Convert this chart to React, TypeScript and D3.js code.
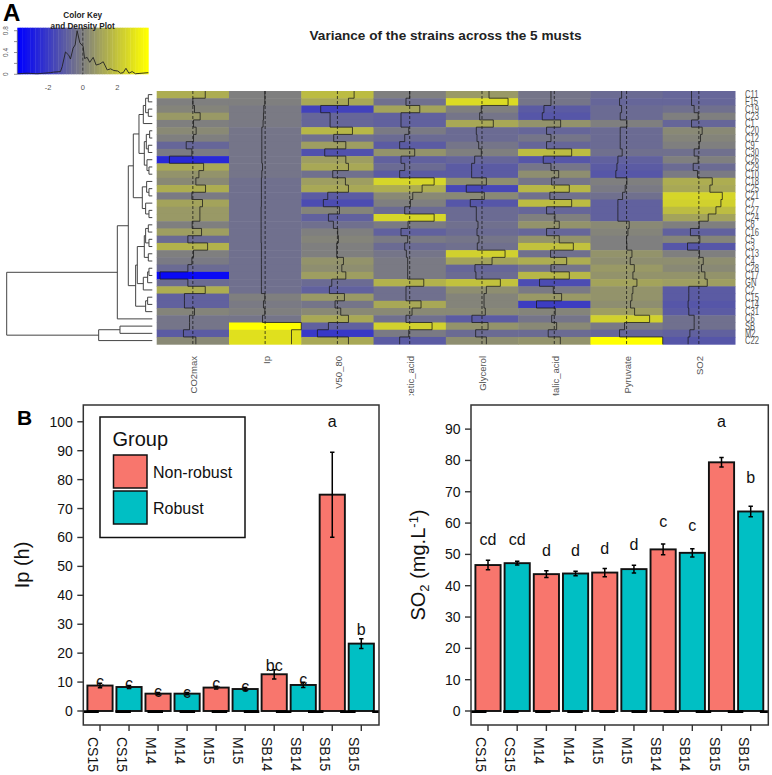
import React from "react";
import * as d3 from "d3";

// ---------- Panel A data ----------
const rowLabels = ["C11","F15","C19","C23","C1","C20","C12","C9","C30","C26","C29","C10","C18","C25","C21","C7","C27","C24","C8","C16","C5","C3","C13","C4","C28","C17","GN","C2","C15","C14","C31","C6","SB","M2","C22"];
const colLabels = ["CO2max","Ip","V50_80","Acetic_acid","Glycerol","Malic_acid","Pyruvate","SO2"];
const co2max = [1.27,0,.17,.75,.07,.34,.07,-.68,-.1,-2.4,1.1,.62,.31,1.3,-.1,.99,.72,.72,-.07,.89,-.51,1.51,.07,-.1,-.51,-3.36,-.51,1.27,-.86,-.86,.17,-.34,-.34,-.96,.31];
const ip = [-.03,-.03,-.14,-.17,-.21,-.34,-.34,-.34,-.34,-.34,-.27,-.34,-.38,-.38,-.38,-.38,-.41,-.41,-.41,-.41,-.41,-.38,-.38,-.38,-.38,-.38,-.38,-.38,-.03,-.17,-.03,-.27,3.7,2.7,2.7];
const v50_80 = [1.71,1.13,-1.71,-.75,-.75,1.54,-.38,.86,-1.3,.86,1.13,-.48,.82,1.13,-.99,-1.44,.21,-.92,-.41,.03,.1,-.07,-.07,.62,.45,.86,-.58,-.82,.72,-.24,.34,1.13,-.92,-2.05,1.13];
const aceticAcid = [0,-.38,1.03,-.89,-.89,-.1,-.51,-1.03,.51,-.89,-.51,-1.03,2.5,1.27,.31,.07,-.51,2.5,-.17,-.89,-.21,-.51,-.34,-.21,-.21,-.21,1.44,-.38,-.38,1.16,.24,-.38,2.29,-.1,-1.03];
const glycerol = [.72,2.67,-.07,-.24,1.16,-.58,-.51,-.34,-.07,-.75,-1.06,-1.06,.45,-1.61,.24,-1.2,-.58,-.58,-.41,-.51,-.31,-.48,2.36,1.03,-.72,-.62,1.88,.45,.21,.21,.34,-1.03,.62,-.65,.45];
const malicAcid = [-.34,-.34,-1.06,-1.23,.65,-.79,-.34,-.79,1.78,-1.13,-.34,.45,-.27,1.54,-.45,1.78,-.79,.07,.51,-.79,.51,1.95,-.38,1.27,-.34,1.54,-1.51,-.1,.75,-1.82,.1,-.27,.24,-.62,.62];
const pyruvate = [-.51,-.72,-.51,-.65,.03,-.65,-.65,-.65,-.45,-.89,-.99,-1.1,.03,-.14,-.41,-.89,-.89,-.89,.27,.14,0,.03,.55,.38,.79,.65,1.06,.65,.55,.41,.82,2.36,-.21,-.72,3.7];
const so2Z = [-.75,-.75,-.48,-.07,-.75,.34,.17,.03,-.48,-.07,-.58,-.14,1.37,1.13,2.4,2.26,1.75,.96,.03,-.86,.1,-1.16,.07,.45,.27,.62,.86,-1.03,-1.03,-1.1,-1.03,-.48,-.48,-.92,-1.1];
const heatColumns = [co2max, ip, v50_80, aceticAcid, glycerol, malicAcid, pyruvate, so2Z];

// dendrogram: [merge distance, child, child]; a number is a row index
const dendro: any = [437,
  [105,
    [72,
      [57,
        [40,
          [27, [20, [12, 0, 1], [12, 2, 3]], 4],
          [24, [18, [8, 5, 6], [12, 7, 8]], [16, 9, [10, 10, 11]]]],
        [30, [17, 12, [10, 13, 14]], [20, 15, [10, 16, 17]]]],
      [50,
        [45,
          [24, [20, [12, 18, 19], [10, 20, 21]], [12, 22, 23]],
          [27, [14, [10, 24, 25], 26], 27]],
        [20, [14, 28, 29], 30]]],
    31],
  [161, [97, 32, 33], 34]];

const densityX = [-3.76,-3.22,-2.64,-2.25,-1.87,-1.68,-1.29,-1.19,-1,-.81,-.71,-.56,-.44,-.33,-.17,.02,.1,.25,.4,.6,.77,.98,1.18,1.41,1.6,1.79,2.02,2.18,2.33,2.49,2.66,2.85,3.04,3.78];
const densityY = [.01,.02,.01,.02,.03,.04,.05,.14,.41,.35,.28,.48,.54,.8,.58,.51,.29,.31,.22,.31,.17,.19,.23,.08,.1,.07,.06,.02,.03,.11,.02,.05,.01,.03];
const keyXTicks = [-2,0,2];
const keyYTicks = [0,.2,.4,.6,.8];
const keyYLabels = [0,.4,.8];

// ---------- Panel B data ----------
const barCategories = ["CS15","CS15","M14","M14","M15","M15","SB14","SB14","SB15","SB15"];
const barGroups = ["Non-robust","Robust","Non-robust","Robust","Non-robust","Robust","Non-robust","Robust","Non-robust","Robust"];
const ipValues = [8.8,8.3,6.0,6.0,8.1,7.6,12.7,9.0,74.8,23.3];
const ipErrors = [.8,.5,.4,.4,.5,.5,1.6,.9,14.7,1.7];
const ipLetters = ["c","c","c","c","c","c","bc","c","a","b"];
const ipLetterPos = [10.1,9.2,6.7,6.3,9.2,8.4,15.7,10.7,100,28];
const ipTicks = [0,10,20,30,40,50,60,70,80,90,100];
const so2Values = [46.6,47.2,43.7,43.9,44.2,45.3,51.6,50.5,79.4,63.7];
const so2Errors = [1.5,.6,1.1,.7,1.3,1.2,1.7,1.3,1.5,1.7];
const so2Letters = ["cd","cd","d","d","d","d","c","c","a","b"];
const so2LetterPos = [54.5,54.5,51,51,51.8,53,60.5,59,92.3,74.3];
const so2Ticks = [0,10,20,30,40,50,60,70,80,90];
const groupNames = ["Non-robust","Robust"];
const groupColors = ["#F8766D","#00BFC4"];

const SANS = "'Liberation Sans', Arial, sans-serif";
const Z_MAX = 3.7;
const LEVELS = 51;
const colorRamp = d3.scaleLinear<string>().domain([-Z_MAX,0,Z_MAX]).range(["#0000ff","#7f7f7f","#ffff00"]);
const heatColor = d3.scaleQuantize<string>().domain([-Z_MAX,Z_MAX]).range(d3.range(LEVELS).map(i => colorRamp(-Z_MAX + (i/(LEVELS-1))*2*Z_MAX)));

function Heatmap() {
  const xb = d3.scaleBand<number>().domain(d3.range(colLabels.length)).range([156.7,735]);
  const yb = d3.scaleBand<number>().domain(d3.range(rowLabels.length)).range([91,344.2]);
  const trace = (c: number) => {
    const half = xb.bandwidth()/2;
    const cx = xb(c)! + half;
    const tx = d3.scaleLinear().domain([-Z_MAX,Z_MAX]).range([cx-half,cx+half]);
    const pts: [number,number][] = [];
    heatColumns[c].forEach((v,r) => { pts.push([tx(v),yb(r)!]); pts.push([tx(v),yb(r)!+yb.bandwidth()]); });
    return { cx, d: d3.line()(pts)! };
  };
  return <g>
    <defs><clipPath id="colClip"><rect x={150} y={350} width={590} height={45.5}/></clipPath></defs>
    {heatColumns.map((col,c) => col.map((v,r) =>
      <rect key={c+"-"+r} x={xb(c)} y={yb(r)} width={xb.bandwidth()+.5} height={yb.bandwidth()+.5} fill={heatColor(v)}/>))}
    {heatColumns.map((_,c) => { const t = trace(c); return <g key={c}>
      <line x1={t.cx} x2={t.cx} y1={91} y2={344.2} stroke="#111" strokeWidth={0.9} strokeDasharray="3,2" opacity={0.8}/>
      <path d={t.d} fill="none" stroke="#1a1a1a" strokeWidth={0.9} opacity={0.85}/>
    </g>; })}
    {rowLabels.map((l,r) => <text key={l} transform={`translate(745,${yb(r)!+yb.bandwidth()/2+3.6}) scale(0.76,1)`} fontFamily={SANS} fontSize={10} fill="#555">{l}</text>)}
    <g clipPath="url(#colClip)">
      {colLabels.map((l,c) => <text key={l} transform={`translate(${xb(c)!+xb.bandwidth()/2+4.5},356) rotate(-90)`} textAnchor="end" fontFamily={SANS} fontSize={9.5} fill="#555">{l}</text>)}
    </g>
  </g>;
}

function Dendrogram() {
  const yb = d3.scaleBand<number>().domain(d3.range(rowLabels.length)).range([91,344.2]);
  const dx = d3.scaleLinear().domain([0,437]).range([152.3,6.7]);
  const root: any = d3.hierarchy(dendro, (d: any) => typeof d === "number" ? null : d.slice(1));
  root.eachAfter((n: any) => {
    if (typeof n.data === "number") { n.py = yb(n.data)! + yb.bandwidth()/2; n.px = dx(0); }
    else { n.px = dx(n.data[0]); n.py = d3.mean(n.children, (c: any) => c.py); }
  });
  const segs: string[] = [];
  root.each((n: any) => { if (n.children) {
    const [a,b] = n.children;
    segs.push(`M${a.px},${a.py}H${n.px}V${b.py}H${b.px}`);
  }});
  return <path d={segs.join("")} fill="none" stroke="#444" strokeWidth={1}/>;
}

function ColorKey() {
  const x = d3.scaleLinear().domain([-3.78,3.78]).range([17.3,148.3]);
  const y = d3.scaleLinear().domain([0,.8]).range([74.3,30.7]);
  const line = d3.line<number>().x(d => x(d)).y((_,i) => y(densityY[i]));
  const w = (148.3-17.3)/LEVELS;
  return <g>
    {d3.range(LEVELS).map(i => <rect key={i} x={17.3+i*w} y={27.7} width={w+.4} height={46.6} fill={heatColor.range()[i]}/>)}
    <line x1={x(0)} x2={x(0)} y1={27.7} y2={74.3} stroke="#333" strokeWidth={0.9} strokeDasharray="3,2"/>
    <path d={line(densityX)!} fill="none" stroke="#222" strokeWidth={0.9}/>
    {keyYTicks.map(t => <line key={t} x1={14} x2={17.3} y1={y(t)} y2={y(t)} stroke="#666" strokeWidth={0.7}/>)}
    <line x1={17.3} x2={17.3} y1={y(.8)} y2={y(0)} stroke="#666" strokeWidth={0.7}/>
    {keyYLabels.map(t => <text key={t} transform={`translate(7.5,${y(t)}) rotate(-90)`} textAnchor="middle" fontFamily={SANS} fontSize={6.5} fill="#555">{t}</text>)}
    {keyXTicks.map(t => <text key={t} x={x(t)} y={90} textAnchor="middle" fontFamily={SANS} fontSize={7.5} fill="#555">{t === -2 ? "-2" : t}</text>)}
    <text x={82.7} y={18} textAnchor="middle" fontFamily={SANS} fontSize={8.2} fontWeight="bold" fill="#222">Color Key</text>
    <text x={82.7} y={28.8} textAnchor="middle" fontFamily={SANS} fontSize={8.2} fontWeight="bold" fill="#222">and Density Plot</text>
  </g>;
}

function BarPanel({left,right,values,errors,letters,letterPos,ticks,yDomain,title,firstC,lastC}: any) {
  const top = 405, bottom = 725;
  const y = d3.scaleLinear().domain(yDomain).range([bottom,top]);
  const x = d3.scalePoint<number>().domain(d3.range(values.length)).range([firstC,lastC]);
  const barW = 25.2;
  return <g fontFamily={SANS}>
    {values.map((v: number,i: number) => <rect key={i} x={x(i)!-barW/2} y={y(v)} width={barW} height={y(0)-y(v)}
      fill={groupColors[groupNames.indexOf(barGroups[i])]} stroke="#111" strokeWidth={1.9}/>)}
    <line x1={left} x2={right} y1={y(0)+.6} y2={y(0)+.6} stroke="#000" strokeWidth={2.6} strokeDasharray="15.5,16.6"/>
    {values.map((v: number,i: number) => { const c = x(i)!; const e = errors[i]; return <path key={i}
      d={`M${c-2.2},${y(v+e)}H${c+2.2}M${c},${y(v+e)}V${y(v-e)}M${c-2.2},${y(v-e)}H${c+2.2}`} fill="none" stroke="#000" strokeWidth={1.5}/>; })}
    {letters.map((l: string,i: number) => <text key={i} x={x(i)} y={y(letterPos[i])+5} textAnchor="middle" fontSize={16} fill="#111">{l}</text>)}
    <rect x={left} y={top} width={right-left} height={bottom-top} fill="none" stroke="#333" strokeWidth={1.5}/>
    {ticks.map((t: number) => <g key={t}>
      <line x1={left-6} x2={left} y1={y(t)} y2={y(t)} stroke="#333" strokeWidth={1.4}/>
      <text x={left-10.5} y={y(t)+5} textAnchor="end" fontSize={14} fill="#111">{t}</text>
    </g>)}
    {barCategories.map((c,i) => <g key={i}>
      <line x1={x(i)} x2={x(i)} y1={bottom} y2={bottom+6} stroke="#333" strokeWidth={1.4}/>
      <text transform={`translate(${x(i)!-12},737) rotate(90)`} fontSize={14} fill="#111">{c}</text>
    </g>)}
    {title}
  </g>;
}

export default function App() {
  return <svg width={772} height={775} style={{position:"absolute",left:0,top:0,display:"block",background:"#fff"}}>
    <text x={3} y={21} fontFamily={SANS} fontSize={24} fontWeight="bold" fill="#000">A</text>
    <text x={17} y={425} fontFamily={SANS} fontSize={21} fontWeight="bold" fill="#000">B</text>
    <text x={445.5} y={39.5} textAnchor="middle" fontFamily={SANS} fontSize={13.6} fontWeight="bold" fill="#222">Variance of the strains across the 5 musts</text>
    <ColorKey/>
    <Dendrogram/>
    <Heatmap/>
    <BarPanel left={83.3} right={379} values={ipValues} errors={ipErrors} letters={ipLetters} letterPos={ipLetterPos}
      ticks={ipTicks} yDomain={[-4.84,105.8]} firstC={100} lastC={361.3}
      title={<text transform="translate(29,565) rotate(-90)" textAnchor="middle" fontSize={20} fill="#111">Ip (h)</text>}/>
    <BarPanel left={471} right={768.3} values={so2Values} errors={so2Errors} letters={so2Letters} letterPos={so2LetterPos}
      ticks={so2Ticks} yDomain={[-4.47,97.7]} firstC={488} lastC={750.7}
      title={<text transform="translate(425,565) rotate(-90)" textAnchor="middle" fontSize={20} fill="#111">SO<tspan fontSize={13} dy={4}>2</tspan><tspan dy={-4}> (mg.L</tspan><tspan fontSize={13} dy={-7}>-1</tspan><tspan dy={7}>)</tspan></text>}/>
    <g fontFamily={SANS}>
      <rect x={100} y={417} width={145} height={120.5} fill="#fff" stroke="#111" strokeWidth={1.5}/>
      <text x={112.5} y={446} fontSize={20} fill="#111">Group</text>
      {groupNames.map((g,i) => <g key={g}>
        <rect x={113.5} y={455+i*36} width={33.5} height={33} fill={groupColors[i]} stroke="#111" strokeWidth={1.5}/>
        <text x={153} y={478+i*36} fontSize={16} fill="#111">{g}</text>
      </g>)}
    </g>
  </svg>;
}
